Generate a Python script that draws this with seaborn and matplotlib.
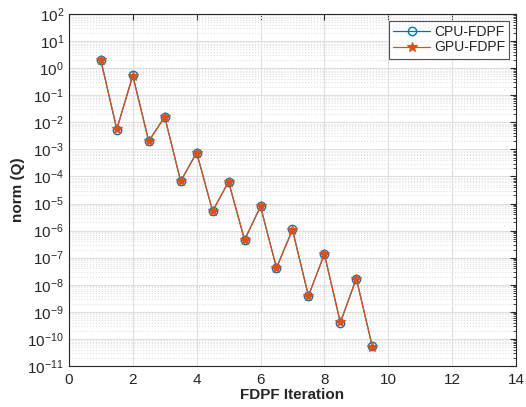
import numpy as np
import pandas as pd
import seaborn as sns
import matplotlib.pyplot as plt
from matplotlib.ticker import LogLocator, NullFormatter

# FDPF iterations (half steps)
iterations = [1, 1.5, 2, 2.5, 3, 3.5, 4, 4.5, 5, 5.5, 6, 6.5, 7, 7.5, 8, 8.5, 9, 9.5]

# norm(Q)
cpu_norm = [1.95, 5.4e-3, 0.56, 2.0e-3, 1.6e-2, 6.6e-5, 7.6e-4, 5.2e-6, 6.5e-5, 4.5e-7,
            7.8e-6, 4.2e-8, 1.1e-6, 3.9e-9, 1.35e-7, 4.0e-10, 1.7e-8, 5.3e-11]
gpu_norm = [1.95, 5.8e-3, 0.50, 2.0e-3, 1.6e-2, 6.7e-5, 7.6e-4, 5.3e-6, 6.3e-5, 4.6e-7,
            7.8e-6, 4.2e-8, 1.05e-6, 3.9e-9, 1.35e-7, 4.1e-10, 1.7e-8, 5.2e-11]

df = pd.DataFrame({
    'iter': iterations * 2,
    'norm': cpu_norm + gpu_norm,
    'solver': ['CPU-FDPF'] * len(iterations) + ['GPU-FDPF'] * len(iterations),
})

sns.set_style('white')
plt.rcParams['font.family'] = ['Liberation Sans', 'DejaVu Sans']

fig = plt.figure(figsize=(5.26, 4.07), dpi=100)
ax = fig.add_axes([0.131, 0.1007, 0.85, 0.865])

# CPU: open circles, GPU: stars (MATLAB default colours)
sns.lineplot(data=df[df.solver == 'CPU-FDPF'], x='iter', y='norm', ax=ax,
             color='#0072BD', marker='o', markersize=6, markerfacecolor='none',
             markeredgecolor='#0072BD', markeredgewidth=1.0, linewidth=0.9,
             label='CPU-FDPF')
sns.lineplot(data=df[df.solver == 'GPU-FDPF'], x='iter', y='norm', ax=ax,
             color='#D95319', marker='*', markersize=7, markeredgecolor='#D95319',
             markeredgewidth=0.8, linewidth=0.9, label='GPU-FDPF')

ax.set_yscale('log')
ax.set_xlim(0, 14)
ax.set_ylim(1e-11, 1e2)
ax.set_xticks(range(0, 15, 2))
ax.yaxis.set_major_locator(LogLocator(base=10, numticks=20))
ax.yaxis.set_minor_locator(LogLocator(base=10, subs=np.arange(2, 10), numticks=200))
ax.yaxis.set_minor_formatter(NullFormatter())

ax.grid(True, which='major', color='#DFDFDF', linewidth=0.8)
ax.grid(True, which='minor', axis='y', color='#E0E0E0', linestyle=':', linewidth=0.8)
ax.set_axisbelow(True)

for s in ax.spines.values():
    s.set_color('#262626')
    s.set_linewidth(0.8)
ax.tick_params(which='both', direction='in', top=True, right=True,
               labelsize=11, colors='#262626', length=4)
ax.tick_params(which='minor', length=2)
ax.tick_params(axis='x', pad=5)

ax.set_xlabel('FDPF Iteration', fontsize=11, fontweight='bold', labelpad=1)
ax.set_ylabel('norm (Q)', fontsize=11, fontweight='bold', labelpad=2)

leg = ax.legend(loc='upper right', fontsize=10, frameon=True, fancybox=False,
                edgecolor='#262626', borderpad=0.3, handlelength=2.6,
                handletextpad=0.3, labelspacing=0.1, borderaxespad=0.5)
leg.get_frame().set_linewidth(0.8)

fig.savefig('out.png', dpi=100)
